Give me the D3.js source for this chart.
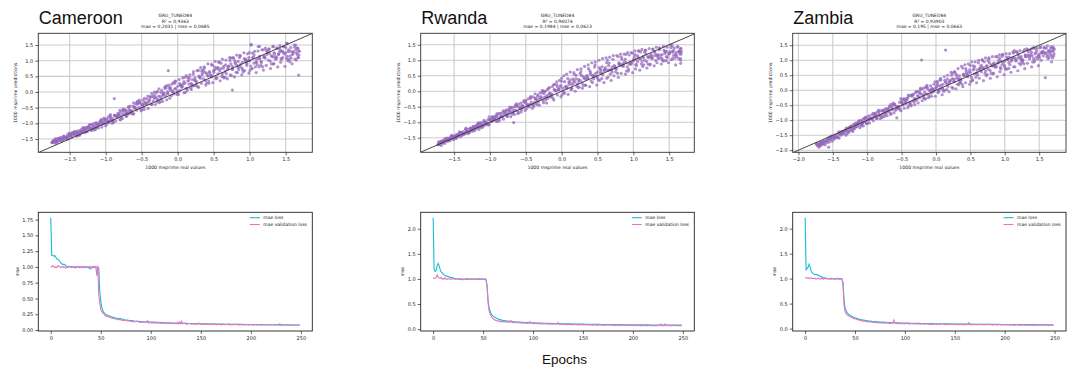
<!DOCTYPE html>
<html>
<head>
<meta charset="utf-8">
<script src="https://cdn.jsdelivr.net/npm/d3@7"></script>
<style>
  body { margin: 0; background: #fff; }
  svg { display: block; }
</style>
</head>
<body>
<svg id="chart" width="1076" height="369"></svg>
<script>
// ---- values ----
const countries = ["Cameroon", "Rwanda", "Zambia"];
const modelName = "GRU_TUNED84";
const r2Labels = ["0,9363", "0,94074", "0,93903"];
const maeLabels = ["0,2031", "0,1984", "0,195"];
const mseLabels = ["0,0685", "0,0623", "0,0663"];

// [real value, predicted value]
const cameroonPoints = [
[-1.74,-1.62],[-1.73,-1.55],[-1.72,-1.58],[-1.71,-1.6],[-1.7,-1.53],[-1.69,-1.57],[-1.68,-1.5],[-1.67,-1.56],[-1.66,-1.52],
[-1.64,-1.49],[-1.63,-1.55],[-1.62,-1.45],[-1.6,-1.51],[-1.59,-1.47],[-1.58,-1.42],[-1.57,-1.5],[-1.56,-1.44],
[-1.54,-1.46],[-1.53,-1.38],[-1.52,-1.43],[-1.5,-1.35],[-1.49,-1.41],[-1.48,-1.33],[-1.47,-1.44],[-1.46,-1.37],
[-1.44,-1.3],[-1.43,-1.38],[-1.41,-1.27],[-1.4,-1.34],[-1.39,-1.24],[-1.38,-1.31],[-1.36,-1.36],[-1.35,-1.22],
[-1.34,-1.28],[-1.33,-1.18],[-1.31,-1.24],[-1.3,-1.15],[-1.29,-1.3],[-1.28,-1.2],[-1.26,-1.12],
[-1.24,-1.19],[-1.23,-1.08],[-1.21,-1.15],[-1.2,-1.23],[-1.19,-1.05],[-1.17,-1.12],[-1.16,-1.0],
[-1.14,-1.1],[-1.13,-0.98],[-1.11,-1.04],[-1.1,-1.15],[-1.08,-0.95],[-1.07,-1.02],[-1.06,-0.9],
[-1.04,-1.02],[-1.02,-0.88],[-1.01,-0.95],[-1.0,-1.08],[-0.98,-0.85],[-0.97,-0.96],[-0.96,-0.79],
[-0.94,-0.9],[-0.93,-0.8],[-0.91,-1.0],[-0.9,-0.85],[-0.88,-0.21],[-0.88,-0.74],[-0.86,-0.92],
[-0.84,-0.8],[-0.83,-0.68],[-0.81,-0.75],[-0.8,-0.88],[-0.78,-0.63],[-0.77,-0.72],[-0.76,-0.55],
[-0.74,-0.7],[-0.72,-0.58],[-0.71,-0.78],[-0.7,-0.62],[-0.68,-0.5],[-0.67,-0.68],[-0.66,-0.45],
[-0.64,-0.6],[-0.62,-0.45],[-0.61,-0.7],[-0.6,-0.52],[-0.58,-0.38],[-0.57,-0.58],[-0.56,-0.3],
[-0.54,-0.5],[-0.53,-0.35],[-0.51,-0.6],[-0.5,-0.42],[-0.48,-0.26],[-0.47,-0.48],[-0.46,-0.2],
[-0.44,-0.38],[-0.43,-0.22],[-0.41,-0.52],[-0.4,-0.3],[-0.38,-0.15],[-0.37,-0.4],[-0.36,-0.05],
[-0.34,-0.28],[-0.32,-0.1],[-0.31,-0.4],[-0.3,-0.18],[-0.28,0.02],[-0.27,-0.25],[-0.26,0.1],
[-0.24,-0.15],[-0.22,0.05],[-0.21,-0.3],[-0.2,-0.05],[-0.18,0.15],[-0.17,-0.12],[-0.16,0.2],
[-0.14,-0.05],[-0.13,0.68],[-0.12,0.12],[-0.11,-0.2],[-0.1,0.05],[-0.08,0.25],[-0.07,0.0],[-0.06,0.3],
[-0.04,0.1],[-0.03,0.35],[-0.01,-0.08],[0.0,0.18],[0.02,0.4],[0.03,0.05],[0.04,0.22],
[0.06,0.15],[0.07,0.45],[0.09,-0.02],[0.1,0.28],[0.12,0.52],[0.13,0.1],[0.14,0.35],
[0.16,0.25],[0.17,0.55],[0.19,0.08],[0.2,0.4],[0.22,0.65],[0.23,0.2],[0.24,0.45],
[0.26,0.35],[0.27,0.68],[0.29,0.15],[0.3,0.5],[0.32,0.78],[0.33,0.28],[0.34,0.55],
[0.36,0.42],[0.37,0.8],[0.39,0.22],[0.4,0.6],[0.42,0.9],[0.43,0.35],[0.44,0.65],
[0.46,0.5],[0.47,0.88],[0.49,0.3],[0.5,0.68],[0.52,0.98],[0.53,0.42],[0.54,0.75],
[0.56,0.58],[0.57,0.95],[0.59,0.36],[0.6,0.75],[0.62,1.05],[0.63,0.48],[0.64,0.82],
[0.66,0.65],[0.67,1.02],[0.69,0.42],[0.7,0.82],[0.72,1.1],[0.73,0.55],[0.74,0.9],[0.76,0.06],
[0.76,0.72],[0.77,1.1],[0.79,0.48],[0.8,0.9],[0.82,1.18],[0.83,0.62],[0.84,0.98],
[0.86,0.8],[0.87,1.15],[0.89,0.55],[0.9,0.95],[0.92,1.25],[0.93,0.68],[0.94,1.05],
[0.96,0.85],[0.97,1.22],[0.99,0.6],[1.0,1.0],[1.02,1.5],[1.03,0.75],[1.04,1.1],
[1.06,0.92],[1.07,1.3],[1.09,0.62],[1.1,1.05],[1.12,1.45],[1.13,0.8],[1.14,1.15],
[1.16,0.98],[1.17,1.35],[1.19,0.7],[1.2,1.1],[1.22,1.4],[1.23,0.85],[1.24,1.2],
[1.26,1.02],[1.27,1.38],[1.29,0.75],[1.3,1.15],[1.32,1.45],[1.33,0.9],[1.34,1.25],
[1.36,1.05],[1.37,1.4],[1.39,0.8],[1.4,1.2],[1.42,1.48],[1.43,0.95],[1.44,1.3],
[1.46,1.1],[1.47,1.45],[1.49,0.82],[1.5,1.25],[1.52,1.55],[1.53,1.0],[1.54,1.35],
[1.56,1.15],[1.57,1.42],[1.59,0.9],[1.6,1.28],[1.62,1.5],[1.63,1.05],[1.64,1.35],
[1.66,1.2],[1.67,1.4],[1.68,0.54],[1.68,1.1],[1.69,1.3],
[-1.738,-1.61],[-1.703,-1.50],[-1.667,-1.60],[-1.721,-1.58],[-1.684,-1.60],[-1.659,-1.48],[-1.746,-1.61],[-1.695,-1.64],[-1.712,-1.55],
[-1.638,-1.47],[-1.603,-1.51],[-1.567,-1.45],[-1.621,-1.57],[-1.584,-1.41],[-1.559,-1.45],[-1.646,-1.50],[-1.595,-1.53],[-1.612,-1.52],
[-1.538,-1.47],[-1.503,-1.38],[-1.467,-1.30],[-1.521,-1.50],[-1.484,-1.39],[-1.459,-1.32],[-1.546,-1.50],[-1.495,-1.39],[-1.512,-1.32],
[-1.379,-1.31],[-1.432,-1.26],[-1.398,-1.41],[-1.356,-1.26],[-1.414,-1.38],[-1.443,-1.29],[-1.387,-1.31],[-1.365,-1.39],[-1.424,-1.30],
[-1.279,-1.14],[-1.332,-1.29],[-1.298,-1.22],[-1.256,-1.27],[-1.314,-1.14],[-1.343,-1.28],[-1.287,-1.18],[-1.265,-1.26],[-1.324,-1.27],
[-1.179,-1.17],[-1.232,-1.14],[-1.198,-1.04],[-1.156,-1.21],[-1.214,-1.15],[-1.243,-1.12],[-1.187,-1.21],[-1.165,-1.09],[-1.224,-1.04],
[-1.107,-1.06],[-1.061,-0.88],[-1.141,-1.19],[-1.089,-1.00],[-1.126,-1.13],[-1.073,-0.92],[-1.099,-1.03],[-1.053,-1.12],[-1.135,-1.01],
[-1.007,-0.87],[-0.961,-0.94],[-1.041,-0.97],[-0.989,-1.03],[-1.026,-0.83],[-0.973,-0.93],[-0.999,-0.89],[-0.953,-0.98],[-1.035,-1.00],
[-0.907,-0.91],[-0.861,-0.76],[-0.941,-0.76],[-0.889,-0.97],[-0.926,-0.86],[-0.873,-0.75],[-0.899,-0.94],[-0.853,-0.78],[-0.935,-0.72],
[-0.838,-0.79],[-0.803,-0.59],[-0.767,-0.85],[-0.821,-0.73],[-0.784,-0.81],[-0.759,-0.58],[-0.846,-0.77],[-0.795,-0.89],[-0.812,-0.68],
[-0.738,-0.56],[-0.703,-0.68],[-0.667,-0.58],[-0.721,-0.77],[-0.684,-0.47],[-0.659,-0.60],[-0.746,-0.61],[-0.695,-0.72],[-0.712,-0.67],
[-0.638,-0.62],[-0.603,-0.48],[-0.567,-0.35],[-0.621,-0.70],[-0.584,-0.51],[-0.559,-0.39],[-0.646,-0.68],[-0.595,-0.49],[-0.612,-0.35],
[-0.479,-0.41],[-0.532,-0.26],[-0.498,-0.57],[-0.456,-0.33],[-0.514,-0.52],[-0.543,-0.31],[-0.487,-0.39],[-0.465,-0.56],[-0.524,-0.34],
[-0.379,-0.16],[-0.432,-0.39],[-0.398,-0.28],[-0.356,-0.40],[-0.414,-0.13],[-0.443,-0.35],[-0.387,-0.22],[-0.365,-0.38],[-0.424,-0.36],
[-0.279,-0.25],[-0.332,-0.17],[-0.298,-0.02],[-0.256,-0.34],[-0.314,-0.20],[-0.343,-0.13],[-0.287,-0.32],[-0.265,-0.13],[-0.324,0.00],
[-0.207,-0.11],[-0.161,0.17],[-0.241,-0.31],[-0.189,-0.03],[-0.226,-0.21],[-0.173,0.11],[-0.199,-0.07],[-0.153,-0.25],[-0.235,-0.01],
[-0.107,0.16],[-0.061,0.00],[-0.141,0.01],[-0.089,-0.12],[-0.126,0.22],[-0.073,0.04],[-0.099,0.11],[-0.053,-0.06],[-0.135,-0.05],
[-0.007,0.02],[0.039,0.23],[-0.041,0.28],[0.011,-0.08],[-0.026,0.11],[0.027,0.27],[0.001,-0.03],[0.047,0.21],[-0.035,0.34],
[0.062,0.18],[0.097,0.47],[0.133,0.05],[0.079,0.26],[0.116,0.12],[0.141,0.46],[0.054,0.20],[0.105,-0.01],[0.088,0.33],
[0.162,0.46],[0.197,0.25],[0.233,0.39],[0.179,0.13],[0.216,0.57],[0.241,0.36],[0.154,0.38],[0.205,0.19],[0.188,0.27],
[0.262,0.29],[0.297,0.50],[0.333,0.68],[0.279,0.17],[0.316,0.44],[0.341,0.61],[0.254,0.21],[0.305,0.47],[0.288,0.69],
[0.421,0.51],[0.368,0.76],[0.402,0.28],[0.444,0.62],[0.386,0.37],[0.357,0.69],[0.413,0.54],[0.435,0.28],[0.376,0.63],
[0.521,0.79],[0.468,0.48],[0.502,0.63],[0.544,0.44],[0.486,0.85],[0.457,0.55],[0.513,0.71],[0.535,0.47],[0.476,0.52],
[0.621,0.58],[0.568,0.73],[0.602,0.92],[0.644,0.45],[0.586,0.67],[0.557,0.79],[0.613,0.50],[0.635,0.76],[0.576,0.96],
[0.693,0.72],[0.739,1.09],[0.659,0.47],[0.711,0.83],[0.674,0.59],[0.727,1.01],[0.701,0.78],[0.747,0.52],[0.665,0.87],
[0.793,1.00],[0.839,0.78],[0.759,0.82],[0.811,0.63],[0.774,1.08],[0.827,0.84],[0.801,0.94],[0.847,0.71],[0.765,0.74],
[0.893,0.77],[0.939,1.02],[0.859,1.10],[0.911,0.64],[0.874,0.88],[0.927,1.07],[0.901,0.71],[0.947,0.99],[0.865,1.17],
[0.962,0.91],[0.997,1.26],[1.033,0.75],[0.979,1.01],[1.016,0.83],[1.041,1.24],[0.954,0.95],[1.005,0.69],[0.988,1.10],[1.021,1.52],
[1.062,1.18],[1.097,0.94],[1.133,1.09],[1.079,0.80],[1.116,1.31],[1.141,1.06],[1.054,1.10],[1.105,0.87],[1.088,0.96],[1.135,1.46],
[1.162,0.94],[1.197,1.15],[1.233,1.33],[1.179,0.81],[1.216,1.09],[1.241,1.26],[1.154,0.86],[1.205,1.12],[1.188,1.35],
[1.321,1.12],[1.268,1.36],[1.302,0.90],[1.344,1.22],[1.286,0.99],[1.257,1.29],[1.313,1.15],[1.335,0.90],[1.276,1.23],[1.33,1.46],
[1.421,1.36],[1.368,1.07],[1.402,1.21],[1.444,1.04],[1.386,1.40],[1.357,1.13],[1.413,1.28],[1.435,1.07],[1.376,1.11],
[1.521,1.14],[1.468,1.25],[1.502,1.42],[1.544,1.04],[1.486,1.21],[1.457,1.31],[1.513,1.07],[1.535,1.29],[1.476,1.45],[1.512,1.55],
[1.593,1.19],[1.639,1.50],[1.559,0.97],[1.611,1.28],[1.574,1.08],[1.627,1.43],[1.601,1.23],[1.647,1.02],[1.565,1.30],
[1.652,1.25],[1.661,1.4],[1.668,1.1],[1.679,1.32],[1.684,1.18]
];

const rwandaPoints = [
[-1.72,-1.72],[-1.71,-1.66],[-1.7,-1.7],[-1.69,-1.63],[-1.68,-1.75],[-1.67,-1.65],[-1.66,-1.6],
[-1.64,-1.62],[-1.63,-1.68],[-1.61,-1.56],[-1.6,-1.6],[-1.58,-1.52],[-1.57,-1.58],[-1.56,-1.5],
[-1.54,-1.53],[-1.53,-1.46],[-1.51,-1.56],[-1.5,-1.44],[-1.48,-1.5],[-1.47,-1.4],[-1.46,-1.47],
[-1.44,-1.44],[-1.43,-1.36],[-1.41,-1.47],[-1.4,-1.33],[-1.38,-1.4],[-1.37,-1.3],[-1.36,-1.38],
[-1.34,-1.34],[-1.33,-1.25],[-1.31,-1.37],[-1.3,-1.22],[-1.28,-1.3],[-1.27,-1.2],[-1.26,-1.27],
[-1.24,-1.24],[-1.23,-1.14],[-1.21,-1.27],[-1.2,-1.12],[-1.18,-1.2],[-1.17,-1.08],[-1.16,-1.16],
[-1.14,-1.13],[-1.13,-1.03],[-1.11,-1.17],[-1.1,-1.0],[-1.08,-1.09],[-1.07,-0.97],[-1.06,-1.05],
[-1.04,-1.02],[-1.03,-0.92],[-1.01,-1.07],[-1.0,-0.9],[-0.98,-0.98],[-0.97,-0.85],[-0.96,-0.95],
[-0.94,-0.92],[-0.93,-0.8],[-0.91,-0.97],[-0.9,-0.78],[-0.88,-0.88],[-0.87,-0.72],[-0.86,-0.84],
[-0.84,-0.82],[-0.83,-0.7],[-0.81,-0.9],[-0.8,-0.65],[-0.78,-0.76],[-0.77,-0.6],[-0.76,-0.73],
[-0.74,-0.72],[-0.73,-0.58],[-0.71,-0.82],[-0.7,-0.55],[-0.68,-0.66],[-0.67,-1.01],[-0.66,-0.5],
[-0.64,-0.62],[-0.63,-0.48],[-0.61,-0.72],[-0.6,-0.42],[-0.58,-0.55],[-0.57,-0.38],[-0.56,-0.6],
[-0.54,-0.52],[-0.53,-0.35],[-0.51,-0.62],[-0.5,-0.3],[-0.48,-0.45],[-0.47,-0.25],[-0.46,-0.5],
[-0.44,-0.42],[-0.43,-0.22],[-0.41,-0.55],[-0.4,-0.18],[-0.38,-0.35],[-0.37,-0.08],[-0.36,-0.4],
[-0.34,-0.3],[-0.33,-0.12],[-0.31,-0.45],[-0.3,-0.05],[-0.28,-0.22],[-0.27,0.02],[-0.26,-0.3],
[-0.24,-0.2],[-0.23,0.0],[-0.21,-0.38],[-0.2,0.05],[-0.18,-0.1],[-0.17,0.12],[-0.16,-0.18],
[-0.14,-0.08],[-0.13,0.15],[-0.11,-0.28],[-0.1,0.22],[-0.08,0.02],[-0.07,0.3],[-0.06,-0.12],
[-0.04,0.05],[-0.03,0.35],[-0.01,-0.18],[0.0,0.42],[0.02,0.1],[0.03,0.5],[0.04,-0.05],
[0.06,0.15],[0.07,0.55],[0.09,-0.1],[0.1,0.3],[0.12,0.62],[0.13,0.05],[0.14,0.22],
[0.16,0.25],[0.17,0.6],[0.19,0.0],[0.2,0.4],[0.22,0.7],[0.23,0.12],[0.24,0.32],
[0.26,0.35],[0.27,0.72],[0.29,0.1],[0.3,0.48],[0.32,0.8],[0.33,0.2],[0.34,0.4],
[0.36,0.42],[0.37,0.85],[0.39,0.15],[0.4,0.55],[0.42,0.92],[0.43,0.28],[0.44,0.5],
[0.46,0.5],[0.47,0.95],[0.49,0.2],[0.5,0.62],[0.52,1.0],[0.53,0.35],[0.54,0.6],
[0.56,0.58],[0.57,1.05],[0.59,0.28],[0.6,0.7],[0.62,1.08],[0.63,0.42],[0.64,0.68],
[0.66,0.68],[0.67,1.1],[0.69,0.35],[0.7,0.78],[0.72,1.15],[0.73,0.5],[0.74,0.75],
[0.76,0.75],[0.77,1.15],[0.79,0.45],[0.8,0.85],[0.82,1.2],[0.83,0.58],[0.84,0.82],
[0.86,0.8],[0.87,1.2],[0.89,0.55],[0.9,0.92],[0.92,1.25],[0.93,0.65],[0.94,0.88],
[0.96,0.88],[0.97,1.25],[0.99,0.6],[1.0,0.98],[1.02,1.3],[1.03,0.72],[1.04,1.02],
[1.06,0.95],[1.07,1.3],[1.09,0.68],[1.1,1.05],[1.12,1.35],[1.13,0.8],[1.14,1.08],
[1.16,1.0],[1.17,1.32],[1.19,0.75],[1.2,1.1],[1.22,1.38],[1.23,0.85],[1.24,1.12],
[1.26,1.05],[1.27,1.35],[1.29,0.82],[1.3,1.15],[1.32,1.42],[1.33,0.92],[1.34,1.18],
[1.36,1.08],[1.37,1.38],[1.39,0.88],[1.4,1.18],[1.42,1.45],[1.43,0.98],[1.44,1.22],
[1.46,1.12],[1.47,1.42],[1.49,0.92],[1.5,1.22],[1.52,1.5],[1.53,1.02],[1.54,1.28],
[1.56,1.15],[1.57,1.4],[1.59,0.85],[1.6,1.25],[1.62,1.45],[1.63,1.05],[1.64,1.3],
[1.65,1.2],[1.66,1.38],[1.66,1.0],[1.67,1.28],
[-1.679,-1.61],[-1.718,-1.72],[-1.698,-1.66],[-1.656,-1.67],[-1.714,-1.63],[-1.723,-1.71],[-1.687,-1.64],[-1.665,-1.67],[-1.708,-1.70],
[-1.579,-1.58],[-1.632,-1.58],[-1.598,-1.51],[-1.556,-1.59],[-1.614,-1.58],[-1.643,-1.58],[-1.587,-1.61],[-1.565,-1.53],[-1.624,-1.52],
[-1.479,-1.46],[-1.532,-1.42],[-1.498,-1.54],[-1.456,-1.41],[-1.514,-1.52],[-1.543,-1.45],[-1.487,-1.46],[-1.465,-1.52],[-1.524,-1.45],
[-1.407,-1.33],[-1.361,-1.36],[-1.441,-1.40],[-1.389,-1.42],[-1.426,-1.31],[-1.373,-1.36],[-1.399,-1.34],[-1.353,-1.38],[-1.435,-1.42],
[-1.307,-1.31],[-1.261,-1.20],[-1.341,-1.22],[-1.289,-1.34],[-1.326,-1.28],[-1.273,-1.19],[-1.299,-1.33],[-1.253,-1.21],[-1.335,-1.19],
[-1.207,-1.18],[-1.161,-1.02],[-1.241,-1.29],[-1.189,-1.13],[-1.226,-1.24],[-1.173,-1.06],[-1.199,-1.15],[-1.153,-1.23],[-1.235,-1.14],
[-1.138,-1.02],[-1.103,-1.10],[-1.067,-1.02],[-1.121,-1.16],[-1.084,-0.94],[-1.059,-1.03],[-1.146,-1.06],[-1.095,-1.13],[-1.112,-1.09],
[-1.038,-1.03],[-1.003,-0.92],[-0.967,-0.82],[-1.021,-1.09],[-0.984,-0.94],[-0.959,-0.85],[-1.046,-1.08],[-0.995,-0.93],[-1.012,-0.83],
[-0.938,-0.89],[-0.903,-0.72],[-0.867,-0.94],[-0.921,-0.84],[-0.884,-0.91],[-0.859,-0.71],[-0.946,-0.88],[-0.895,-0.98],[-0.912,-0.80],
[-0.779,-0.64],[-0.832,-0.83],[-0.798,-0.74],[-0.756,-0.82],[-0.814,-0.63],[-0.843,-0.80],[-0.787,-0.69],[-0.765,-0.80],[-0.824,-0.80],
[-0.679,-0.69],[-0.732,-0.64],[-0.698,-0.52],[-0.656,-0.75],[-0.714,-0.66],[-0.743,-0.61],[-0.687,-0.74],[-0.665,-0.60],[-0.724,-0.51],
[-0.579,-0.54],[-0.632,-0.41],[-0.598,-0.69],[-0.556,-0.47],[-0.614,-0.64],[-0.643,-0.45],[-0.587,-0.52],[-0.565,-0.67],[-0.624,-0.48],
[-0.507,-0.34],[-0.461,-0.45],[-0.541,-0.46],[-0.489,-0.56],[-0.526,-0.30],[-0.473,-0.43],[-0.499,-0.38],[-0.453,-0.50],[-0.535,-0.51],
[-0.407,-0.42],[-0.361,-0.24],[-0.441,-0.22],[-0.389,-0.49],[-0.426,-0.35],[-0.373,-0.22],[-0.399,-0.45],[-0.353,-0.26],[-0.435,-0.17],
[-0.307,-0.25],[-0.261,0.01],[-0.341,-0.43],[-0.289,-0.17],[-0.326,-0.34],[-0.273,-0.05],[-0.299,-0.21],[-0.253,-0.37],[-0.335,-0.16],
[-0.238,-0.01],[-0.203,-0.17],[-0.167,-0.06],[-0.221,-0.28],[-0.184,0.09],[-0.159,-0.08],[-0.246,-0.08],[-0.195,-0.23],[-0.212,-0.16],
[-0.138,-0.12],[-0.103,0.06],[-0.067,0.21],[-0.121,-0.22],[-0.084,0.01],[-0.059,0.15],[-0.146,-0.18],[-0.095,0.03],[-0.112,0.21],
[-0.038,0.05],[-0.003,0.32],[0.033,-0.07],[-0.021,0.13],[0.016,0.00],[0.041,0.31],[-0.046,0.07],[0.005,-0.12],[-0.012,0.19],
[0.121,0.36],[0.068,0.10],[0.102,0.22],[0.144,0.07],[0.086,0.41],[0.057,0.15],[0.113,0.29],[0.135,0.10],[0.076,0.13],
[0.221,0.23],[0.168,0.34],[0.202,0.51],[0.244,0.13],[0.186,0.30],[0.157,0.40],[0.213,0.16],[0.235,0.38],[0.176,0.54],
[0.321,0.40],[0.268,0.63],[0.302,0.19],[0.344,0.50],[0.286,0.27],[0.257,0.57],[0.313,0.43],[0.335,0.19],[0.276,0.51],
[0.393,0.66],[0.439,0.47],[0.359,0.50],[0.411,0.33],[0.374,0.73],[0.427,0.52],[0.401,0.61],[0.447,0.40],[0.365,0.43],
[0.493,0.48],[0.539,0.71],[0.459,0.78],[0.511,0.36],[0.474,0.58],[0.527,0.76],[0.501,0.42],[0.547,0.68],[0.465,0.85],
[0.593,0.65],[0.639,1.00],[0.559,0.41],[0.611,0.76],[0.574,0.53],[0.627,0.92],[0.601,0.70],[0.647,0.46],[0.565,0.79],
[0.662,0.91],[0.697,0.69],[0.733,0.83],[0.679,0.55],[0.716,1.03],[0.741,0.80],[0.654,0.83],[0.705,0.62],[0.688,0.70],
[0.762,0.71],[0.797,0.92],[0.833,1.10],[0.779,0.58],[0.816,0.86],[0.841,1.03],[0.754,0.63],[0.805,0.89],[0.788,1.12],
[0.862,0.86],[0.897,1.19],[0.933,0.71],[0.879,0.96],[0.916,0.79],[0.941,1.17],[0.854,0.89],[0.905,0.65],[0.888,1.04],
[1.021,1.18],[0.968,0.88],[1.002,1.02],[1.044,0.83],[0.986,1.23],[0.957,0.94],[1.013,1.10],[1.035,0.87],[0.976,0.91],
[1.121,0.96],[1.068,1.09],[1.102,1.27],[1.144,0.85],[1.086,1.04],[1.057,1.15],[1.113,0.88],[1.135,1.12],[1.076,1.30],
[1.221,1.09],[1.168,1.32],[1.202,0.88],[1.244,1.19],[1.186,0.96],[1.157,1.26],[1.213,1.12],[1.235,0.88],[1.176,1.20],
[1.293,1.29],[1.339,1.12],[1.259,1.14],[1.311,0.99],[1.274,1.36],[1.327,1.16],[1.301,1.24],[1.347,1.05],[1.265,1.07],
[1.393,1.08],[1.439,1.29],[1.359,1.34],[1.411,0.98],[1.374,1.17],[1.427,1.33],[1.401,1.03],[1.447,1.27],[1.365,1.40],
[1.493,1.19],[1.539,1.47],[1.459,0.99],[1.511,1.27],[1.474,1.09],[1.527,1.41],[1.501,1.23],[1.547,1.05],[1.465,1.29],
[1.562,1.32],[1.597,1.17],[1.633,1.28],[1.579,1.07],[1.616,1.42],[1.641,1.26],[1.554,1.26],[1.605,1.12],[1.588,1.18],
[1.652,1.3],[1.658,1.05],[1.663,1.38],[1.667,1.2],[1.66,0.9]
];

const zambiaPoints = [
[-1.72,-1.85],[-1.71,-1.78],[-1.7,-1.9],[-1.69,-1.8],[-1.68,-1.74],[-1.67,-1.84],[-1.66,-1.76],
[-1.64,-1.78],[-1.63,-1.7],[-1.61,-1.82],[-1.6,-1.68],[-1.58,-1.74],[-1.57,-1.64],[-1.56,-1.9],
[-1.54,-1.66],[-1.53,-1.58],[-1.51,-1.7],[-1.5,-1.55],[-1.48,-1.62],[-1.47,-1.5],[-1.46,-1.58],
[-1.44,-1.56],[-1.43,-1.46],[-1.41,-1.6],[-1.4,-1.42],[-1.38,-1.5],[-1.37,-1.38],[-1.36,-1.46],
[-1.34,-1.44],[-1.33,-1.34],[-1.31,-1.5],[-1.3,-1.3],[-1.28,-1.38],[-1.27,-1.25],[-1.26,-1.34],
[-1.24,-1.32],[-1.23,-1.2],[-1.21,-1.38],[-1.2,-1.15],[-1.18,-1.26],[-1.17,-1.1],[-1.16,-1.22],
[-1.14,-1.18],[-1.13,-1.06],[-1.11,-1.25],[-1.1,-1.02],[-1.08,-1.12],[-1.07,-0.98],[-1.06,-1.08],
[-1.04,-1.05],[-1.03,-0.92],[-1.01,-1.12],[-1.0,-0.88],[-0.98,-0.98],[-0.97,-0.85],[-0.96,-0.95],
[-0.94,-0.95],[-0.93,-0.82],[-0.91,-1.02],[-0.9,-0.78],[-0.88,-0.88],[-0.87,-0.75],[-0.86,-0.92],
[-0.84,-0.85],[-0.83,-0.72],[-0.81,-0.95],[-0.8,-0.68],[-0.78,-0.8],[-0.77,-0.66],[-0.76,-0.88],
[-0.74,-0.76],[-0.73,-0.62],[-0.71,-0.85],[-0.7,-0.6],[-0.68,-0.72],[-0.67,-0.55],[-0.66,-0.8],
[-0.64,-0.65],[-0.63,-0.5],[-0.61,-0.75],[-0.6,-0.46],[-0.58,-0.62],[-0.57,-0.92],[-0.56,-0.55],
[-0.54,-0.56],[-0.53,-0.4],[-0.51,-0.68],[-0.5,-0.36],[-0.48,-0.5],[-0.47,-0.3],[-0.46,-0.6],
[-0.44,-0.45],[-0.43,-0.28],[-0.41,-0.58],[-0.4,-0.2],[-0.38,-0.4],[-0.37,-0.18],[-0.36,-0.52],
[-0.34,-0.35],[-0.33,-0.15],[-0.31,-0.48],[-0.3,-0.08],[-0.28,-0.3],[-0.27,-0.05],[-0.26,-0.42],
[-0.24,-0.25],[-0.23,0.02],[-0.21,1.01],[-0.2,-0.35],[-0.18,-0.15],[-0.17,0.08],[-0.16,-0.3],
[-0.14,-0.12],[-0.13,0.1],[-0.11,-0.25],[-0.1,0.0],[-0.08,0.15],[-0.07,-0.1],[-0.06,0.05],
[-0.04,-0.05],[-0.03,0.2],[-0.01,-0.2],[0.0,0.08],[0.02,0.3],[0.03,-0.08],[0.04,0.15],
[0.06,0.05],[0.07,0.35],[0.09,-0.15],[0.1,0.2],[0.12,0.45],[0.13,0.0],[0.14,1.34],
[0.16,0.2],[0.17,0.5],[0.19,-0.05],[0.2,0.3],[0.22,0.6],[0.23,0.1],[0.24,0.38],
[0.26,0.28],[0.27,0.62],[0.29,0.05],[0.3,0.4],[0.32,0.72],[0.33,0.18],[0.34,0.48],
[0.36,0.38],[0.37,0.8],[0.39,0.12],[0.4,0.5],[0.42,0.85],[0.43,0.25],[0.44,0.58],
[0.46,0.45],[0.47,0.88],[0.49,0.2],[0.5,0.6],[0.52,0.95],[0.53,0.32],[0.54,0.68],
[0.56,0.55],[0.57,0.95],[0.59,0.25],[0.6,0.68],[0.62,1.0],[0.63,0.4],[0.64,0.75],
[0.66,0.62],[0.67,1.02],[0.69,0.32],[0.7,0.75],[0.72,1.08],[0.73,0.48],[0.74,0.82],
[0.76,0.7],[0.77,1.08],[0.79,0.4],[0.8,0.85],[0.82,1.12],[0.83,0.55],[0.84,0.9],
[0.86,0.78],[0.87,1.12],[0.89,0.45],[0.9,0.92],[0.92,1.18],[0.93,0.62],[0.94,0.98],
[0.96,0.85],[0.97,1.18],[0.99,0.52],[1.0,0.98],[1.02,1.22],[1.03,0.7],[1.04,1.02],
[1.06,0.92],[1.07,1.22],[1.09,0.6],[1.1,1.02],[1.12,1.28],[1.13,0.78],[1.14,1.08],
[1.16,0.98],[1.17,1.28],[1.19,0.65],[1.2,1.08],[1.22,1.32],[1.23,0.85],[1.24,1.12],
[1.26,1.02],[1.27,1.3],[1.29,0.72],[1.3,1.12],[1.32,1.38],[1.33,0.9],[1.34,1.18],
[1.36,1.05],[1.37,1.35],[1.39,0.78],[1.4,1.15],[1.42,1.42],[1.43,0.95],[1.44,1.22],
[1.46,1.1],[1.47,1.4],[1.49,0.82],[1.5,1.2],[1.52,1.45],[1.53,1.0],[1.54,1.28],
[1.56,1.15],[1.57,1.42],[1.59,0.42],[1.6,1.25],[1.62,1.48],[1.63,1.05],[1.64,1.32],
[1.66,1.2],[1.67,1.4],[1.68,0.95],[1.69,1.3],[1.7,1.45],[1.71,1.15],[1.72,1.38],
[-1.707,-1.83],[-1.661,-1.75],[-1.741,-1.79],[-1.689,-1.84],[-1.726,-1.82],[-1.673,-1.75],[-1.699,-1.84],[-1.653,-1.75],[-1.735,-1.77],
[-1.607,-1.72],[-1.561,-1.59],[-1.641,-1.80],[-1.589,-1.68],[-1.626,-1.76],[-1.573,-1.63],[-1.599,-1.70],[-1.553,-1.73],[-1.635,-1.70],
[-1.507,-1.54],[-1.461,-1.56],[-1.541,-1.61],[-1.489,-1.63],[-1.526,-1.53],[-1.473,-1.56],[-1.499,-1.55],[-1.453,-1.58],[-1.535,-1.63],
[-1.438,-1.54],[-1.403,-1.45],[-1.367,-1.37],[-1.421,-1.57],[-1.384,-1.46],[-1.359,-1.39],[-1.446,-1.57],[-1.395,-1.46],[-1.412,-1.39],
[-1.338,-1.39],[-1.303,-1.26],[-1.267,-1.41],[-1.321,-1.35],[-1.284,-1.39],[-1.259,-1.24],[-1.346,-1.39],[-1.295,-1.45],[-1.312,-1.32],
[-1.238,-1.20],[-1.203,-1.27],[-1.167,-1.20],[-1.221,-1.34],[-1.184,-1.13],[-1.159,-1.21],[-1.246,-1.24],[-1.195,-1.30],[-1.212,-1.27],
[-1.079,-1.15],[-1.132,-1.12],[-1.098,-1.02],[-1.056,-1.19],[-1.114,-1.13],[-1.143,-1.10],[-1.087,-1.19],[-1.065,-1.07],[-1.124,-1.02],
[-0.979,-0.99],[-1.032,-0.91],[-0.998,-1.11],[-0.956,-0.93],[-1.014,-1.08],[-1.043,-0.94],[-0.987,-0.98],[-0.965,-1.09],[-1.024,-0.96],
[-0.879,-0.79],[-0.932,-0.96],[-0.898,-0.88],[-0.856,-0.95],[-0.914,-0.77],[-0.943,-0.94],[-0.887,-0.83],[-0.865,-0.94],[-0.924,-0.94],
[-0.807,-0.85],[-0.761,-0.70],[-0.841,-0.70],[-0.789,-0.91],[-0.826,-0.80],[-0.773,-0.69],[-0.799,-0.88],[-0.753,-0.72],[-0.835,-0.66],
[-0.707,-0.70],[-0.661,-0.48],[-0.741,-0.85],[-0.689,-0.63],[-0.726,-0.77],[-0.673,-0.53],[-0.699,-0.66],[-0.653,-0.78],[-0.735,-0.63],
[-0.607,-0.47],[-0.561,-0.57],[-0.641,-0.58],[-0.589,-0.67],[-0.626,-0.43],[-0.573,-0.55],[-0.599,-0.50],[-0.553,-0.61],[-0.635,-0.62],
[-0.538,-0.55],[-0.503,-0.41],[-0.467,-0.28],[-0.521,-0.63],[-0.484,-0.44],[-0.459,-0.32],[-0.546,-0.61],[-0.495,-0.42],[-0.512,-0.28],
[-0.438,-0.39],[-0.403,-0.16],[-0.367,-0.47],[-0.421,-0.32],[-0.384,-0.43],[-0.359,-0.16],[-0.446,-0.37],[-0.395,-0.52],[-0.412,-0.26],
[-0.338,-0.14],[-0.303,-0.29],[-0.267,-0.18],[-0.321,-0.39],[-0.284,-0.04],[-0.259,-0.20],[-0.346,-0.20],[-0.295,-0.34],[-0.312,-0.28],
[-0.179,-0.18],[-0.232,-0.10],[-0.198,0.05],[-0.156,-0.27],[-0.214,-0.13],[-0.243,-0.06],[-0.187,-0.25],[-0.165,-0.06],[-0.224,0.07],
[-0.079,-0.02],[-0.132,0.16],[-0.098,-0.21],[-0.056,0.06],[-0.114,-0.14],[-0.143,0.11],[-0.087,0.00],[-0.065,-0.20],[-0.124,0.06],
[0.021,0.24],[-0.032,-0.02],[0.002,0.10],[0.044,-0.04],[-0.014,0.28],[-0.043,0.03],[0.013,0.17],[0.035,-0.02],[-0.024,0.01],
[0.093,0.07],[0.139,0.28],[0.059,0.34],[0.111,-0.04],[0.074,0.16],[0.127,0.33],[0.101,0.02],[0.147,0.26],[0.065,0.40],
[0.193,0.24],[0.239,0.57],[0.159,0.02],[0.211,0.34],[0.174,0.13],[0.227,0.50],[0.201,0.29],[0.247,0.07],[0.165,0.37],
[0.293,0.53],[0.339,0.34],[0.259,0.37],[0.311,0.20],[0.274,0.60],[0.327,0.39],[0.301,0.48],[0.347,0.27],[0.265,0.30],
[0.362,0.33],[0.397,0.54],[0.433,0.72],[0.379,0.20],[0.416,0.48],[0.441,0.65],[0.354,0.25],[0.405,0.51],[0.388,0.74],
[0.462,0.50],[0.497,0.83],[0.533,0.35],[0.479,0.60],[0.516,0.43],[0.541,0.81],[0.454,0.53],[0.505,0.29],[0.488,0.68],
[0.562,0.79],[0.597,0.57],[0.633,0.71],[0.579,0.43],[0.616,0.91],[0.641,0.68],[0.554,0.71],[0.605,0.50],[0.588,0.58],
[0.721,0.64],[0.668,0.77],[0.702,0.95],[0.744,0.52],[0.686,0.72],[0.657,0.83],[0.713,0.56],[0.735,0.80],[0.676,0.99],
[0.821,0.80],[0.768,1.05],[0.802,0.57],[0.844,0.91],[0.786,0.66],[0.757,0.98],[0.813,0.83],[0.835,0.57],[0.776,0.92],
[0.921,1.07],[0.868,0.77],[0.902,0.91],[0.944,0.72],[0.886,1.12],[0.857,0.83],[0.913,0.99],[0.935,0.76],[0.876,0.80],
[0.993,0.83],[1.039,1.06],[0.959,1.13],[1.011,0.71],[0.974,0.93],[1.027,1.11],[1.001,0.77],[1.047,1.03],[0.965,1.20],
[1.093,0.97],[1.139,1.32],[1.059,0.73],[1.111,1.08],[1.074,0.85],[1.127,1.24],[1.101,1.02],[1.147,0.78],[1.065,1.11],
[1.193,1.22],[1.239,1.03],[1.159,1.06],[1.211,0.90],[1.174,1.28],[1.227,1.08],[1.201,1.16],[1.247,0.97],[1.165,0.99],
[1.262,0.99],[1.297,1.18],[1.333,1.35],[1.279,0.88],[1.316,1.13],[1.341,1.29],[1.254,0.92],[1.305,1.16],[1.288,1.36],
[1.362,1.12],[1.397,1.40],[1.433,1.00],[1.379,1.20],[1.416,1.06],[1.441,1.39],[1.354,1.14],[1.405,0.94],[1.388,1.27],
[1.462,1.31],[1.497,1.14],[1.533,1.26],[1.479,1.04],[1.516,1.42],[1.541,1.24],[1.454,1.25],[1.505,1.09],[1.488,1.16],
[1.621,1.18],[1.568,1.26],[1.602,1.40],[1.644,1.10],[1.586,1.23],[1.557,1.30],[1.613,1.12],[1.635,1.30],[1.576,1.42],
[1.662,1.31],[1.681,1.15],[1.703,1.4],[1.715,1.22],[1.671,1.45],[1.694,1.08],[1.708,1.33],[1.656,1.26]
];

// per-epoch mae, epochs 0..249
const cameroonLoss = [
1.78,1.18,1.18,1.17,1.18,1.15,1.13,1.12,1.11,1.09,
1.06,1.05,1.04,1.04,1.04,1.02,1.01,1.00,1.01,1.00,
1.00,1.01,1.00,1.00,0.99,1.00,1.00,1.01,1.00,0.99,
1.00,1.00,1.00,0.99,1.00,1.00,1.00,0.99,0.98,0.99,
0.97,0.99,1.00,0.99,1.00,0.99,0.99,0.99,0.98,0.60,
0.46,0.36,0.31,0.28,0.26,0.25,0.24,0.23,0.22,0.22,
0.21,0.21,0.20,0.20,0.19,0.19,0.19,0.18,0.18,0.18,
0.18,0.17,0.17,0.17,0.16,0.16,0.16,0.16,0.15,0.15,
0.15,0.15,0.15,0.14,0.14,0.14,0.14,0.14,0.14,0.135,
0.135,0.135,0.13,0.13,0.13,0.13,0.13,0.128,0.128,0.127,
0.126,0.125,0.125,0.124,0.123,0.122,0.122,0.121,0.12,0.12,
0.119,0.118,0.118,0.117,0.116,0.116,0.115,0.114,0.114,0.113,
0.113,0.112,0.112,0.111,0.111,0.11,0.11,0.109,0.109,0.108,
0.108,0.107,0.107,0.106,0.106,0.105,0.105,0.104,0.104,0.104,
0.103,0.103,0.102,0.102,0.102,0.101,0.101,0.1,0.1,0.1,
0.099,0.099,0.099,0.098,0.098,0.098,0.097,0.097,0.097,0.096,
0.096,0.096,0.095,0.095,0.095,0.095,0.094,0.094,0.094,0.094,
0.093,0.093,0.093,0.093,0.092,0.092,0.092,0.092,0.091,0.091,
0.091,0.091,0.09,0.09,0.09,0.09,0.09,0.089,0.089,0.089,
0.089,0.089,0.088,0.088,0.088,0.088,0.088,0.087,0.087,0.087,
0.087,0.087,0.086,0.086,0.086,0.086,0.086,0.086,0.085,0.085,
0.085,0.085,0.085,0.085,0.084,0.084,0.084,0.084,0.084,0.084,
0.083,0.083,0.083,0.083,0.083,0.083,0.082,0.082,0.082,0.082,
0.082,0.082,0.082,0.081,0.081,0.081,0.081,0.081,0.081,0.081,
0.08,0.08,0.08,0.08,0.08,0.08,0.08,0.08,0.079,0.079
];
const cameroonValLoss = [
1.00,1.00,1.02,1.00,0.99,1.00,0.99,1.01,1.02,1.00,
0.99,1.00,1.01,0.99,1.00,0.98,1.00,0.99,1.01,1.00,
1.00,0.99,1.00,1.01,1.00,0.98,1.00,1.00,0.99,1.00,
0.99,1.00,1.01,1.00,0.99,1.00,1.00,0.99,1.00,1.01,
1.00,0.99,1.01,1.00,0.99,1.01,0.86,1.02,0.55,0.42,
0.33,0.29,0.27,0.26,0.24,0.22,0.22,0.21,0.21,0.2,
0.19,0.19,0.18,0.19,0.18,0.17,0.17,0.17,0.16,0.17,
0.16,0.16,0.15,0.16,0.15,0.15,0.15,0.14,0.15,0.14,
0.14,0.14,0.13,0.14,0.13,0.13,0.14,0.13,0.13,0.12,
0.12,0.13,0.12,0.12,0.13,0.12,0.12,0.15,0.11,0.12,
0.12,0.11,0.12,0.11,0.13,0.11,0.11,0.12,0.11,0.11,
0.11,0.1,0.11,0.12,0.1,0.11,0.1,0.11,0.1,0.11,
0.1,0.11,0.1,0.1,0.11,0.1,0.1,0.12,0.1,0.13,
0.1,0.14,0.1,0.1,0.11,0.1,0.09,0.1,0.1,0.1,
0.1,0.09,0.1,0.1,0.09,0.1,0.09,0.1,0.11,0.09,
0.09,0.1,0.09,0.09,0.1,0.09,0.09,0.1,0.09,0.09,
0.09,0.09,0.1,0.09,0.09,0.09,0.08,0.09,0.09,0.09,
0.09,0.08,0.09,0.09,0.09,0.08,0.09,0.09,0.1,0.08,
0.09,0.08,0.09,0.08,0.09,0.09,0.08,0.09,0.08,0.08,
0.09,0.08,0.08,0.09,0.08,0.08,0.09,0.08,0.08,0.08,
0.09,0.08,0.08,0.08,0.09,0.08,0.08,0.08,0.09,0.08,
0.08,0.08,0.09,0.08,0.08,0.08,0.08,0.09,0.08,0.08,
0.08,0.08,0.08,0.08,0.08,0.08,0.08,0.09,0.08,0.1,
0.08,0.08,0.08,0.08,0.08,0.08,0.08,0.08,0.08,0.08,
0.08,0.08,0.07,0.08,0.08,0.08,0.08,0.08,0.08,0.08
];

const rwandaLoss = [
2.22,1.18,1.15,1.17,1.26,1.31,1.26,1.19,1.14,1.12,
1.10,1.08,1.07,1.06,1.05,1.05,1.04,1.03,1.03,1.02,
1.02,1.01,1.01,1.00,1.00,1.00,1.00,0.99,1.00,0.98,
0.99,1.00,1.00,0.99,1.00,0.99,1.00,1.00,0.99,1.00,
0.99,1.00,0.99,1.00,1.00,0.99,1.00,0.99,1.00,0.99,
1.00,0.99,1.00,0.99,0.88,0.58,0.43,0.36,0.31,0.28,
0.26,0.24,0.23,0.22,0.21,0.20,0.19,0.19,0.18,0.18,
0.17,0.17,0.17,0.16,0.16,0.16,0.16,0.15,0.15,0.15,
0.15,0.15,0.14,0.14,0.14,0.14,0.14,0.14,0.135,0.135,
0.135,0.13,0.13,0.13,0.13,0.13,0.128,0.128,0.127,0.126,
0.125,0.125,0.124,0.123,0.122,0.122,0.121,0.12,0.12,0.119,
0.118,0.118,0.117,0.116,0.116,0.115,0.114,0.114,0.113,0.113,
0.112,0.112,0.111,0.111,0.11,0.11,0.109,0.109,0.108,0.108,
0.107,0.107,0.106,0.106,0.105,0.105,0.104,0.104,0.104,0.103,
0.103,0.102,0.102,0.102,0.101,0.101,0.1,0.1,0.1,0.099,
0.099,0.099,0.098,0.098,0.098,0.097,0.097,0.097,0.096,0.096,
0.096,0.095,0.095,0.095,0.094,0.094,0.094,0.094,0.093,0.093,
0.093,0.093,0.092,0.092,0.092,0.092,0.091,0.091,0.091,0.091,
0.09,0.09,0.09,0.09,0.09,0.089,0.089,0.089,0.089,0.089,
0.088,0.088,0.088,0.088,0.088,0.087,0.087,0.087,0.087,0.087,
0.086,0.086,0.086,0.086,0.086,0.085,0.085,0.085,0.085,0.085,
0.085,0.084,0.084,0.084,0.084,0.084,0.084,0.083,0.083,0.083,
0.083,0.083,0.083,0.082,0.082,0.082,0.082,0.082,0.082,0.082,
0.081,0.081,0.081,0.081,0.081,0.081,0.08,0.08,0.08,0.08,
0.08,0.08,0.08,0.079,0.079,0.079,0.079,0.079,0.079,0.079
];
const rwandaValLoss = [
1.02,1.01,1.01,1.03,1.08,1.04,1.02,1.01,1.03,1.00,
1.01,0.99,1.02,1.00,0.99,1.01,1.00,1.00,0.99,1.01,
1.00,1.00,0.99,1.01,1.00,0.99,1.00,1.01,0.99,1.00,
1.00,0.99,1.00,1.00,1.01,0.99,1.00,0.99,1.00,1.00,
0.99,1.00,1.00,0.99,1.00,1.01,0.99,1.00,0.99,1.00,
0.99,1.00,0.99,0.98,0.84,0.52,0.37,0.30,0.26,0.23,
0.21,0.19,0.18,0.17,0.17,0.16,0.16,0.15,0.15,0.15,
0.15,0.14,0.15,0.14,0.14,0.15,0.14,0.14,0.17,0.14,
0.13,0.14,0.13,0.13,0.14,0.13,0.13,0.12,0.13,0.12,
0.12,0.13,0.12,0.12,0.12,0.11,0.12,0.15,0.11,0.12,
0.11,0.11,0.12,0.11,0.11,0.13,0.11,0.1,0.11,0.11,
0.1,0.11,0.1,0.11,0.1,0.1,0.11,0.1,0.1,0.1,
0.1,0.1,0.11,0.1,0.1,0.13,0.1,0.09,0.1,0.1,
0.09,0.1,0.09,0.1,0.09,0.09,0.1,0.09,0.09,0.09,
0.09,0.09,0.1,0.09,0.09,0.09,0.08,0.09,0.09,0.09,
0.09,0.08,0.09,0.09,0.08,0.09,0.08,0.08,0.09,0.08,
0.08,0.08,0.09,0.08,0.08,0.08,0.08,0.09,0.08,0.08,
0.08,0.08,0.08,0.08,0.08,0.09,0.08,0.08,0.08,0.08,
0.08,0.08,0.07,0.08,0.08,0.08,0.08,0.07,0.08,0.08,
0.08,0.07,0.08,0.08,0.07,0.08,0.08,0.07,0.08,0.07,
0.08,0.07,0.07,0.08,0.07,0.07,0.08,0.07,0.07,0.07,
0.07,0.08,0.07,0.07,0.07,0.07,0.08,0.07,0.07,0.07,
0.07,0.07,0.07,0.07,0.07,0.08,0.07,0.07,0.1,0.07,
0.07,0.07,0.1,0.07,0.07,0.08,0.07,0.07,0.07,0.07,
0.08,0.07,0.07,0.07,0.07,0.07,0.07,0.07,0.07,0.07
];

const zambiaLoss = [
2.22,1.18,1.20,1.23,1.29,1.23,1.16,1.12,1.10,1.09,
1.08,1.08,1.08,1.07,1.06,1.05,1.04,1.03,1.02,1.02,
1.01,1.01,1.00,1.00,1.00,1.00,0.99,1.00,1.00,1.00,
0.99,1.00,1.00,1.00,0.99,1.00,1.00,0.99,0.92,0.58,
0.42,0.36,0.32,0.30,0.28,0.27,0.25,0.24,0.23,0.22,
0.21,0.21,0.20,0.19,0.19,0.18,0.18,0.17,0.17,0.17,
0.16,0.16,0.16,0.15,0.15,0.15,0.15,0.14,0.14,0.14,
0.14,0.14,0.135,0.135,0.13,0.13,0.13,0.13,0.13,0.125,
0.125,0.125,0.12,0.12,0.12,0.12,0.12,0.118,0.117,0.116,
0.116,0.115,0.115,0.114,0.114,0.113,0.112,0.112,0.111,0.111,
0.11,0.11,0.11,0.109,0.109,0.108,0.108,0.107,0.107,0.106,
0.106,0.105,0.105,0.104,0.104,0.104,0.103,0.103,0.102,0.102,
0.102,0.101,0.101,0.1,0.1,0.1,0.099,0.099,0.099,0.098,
0.098,0.098,0.097,0.097,0.097,0.096,0.096,0.096,0.096,0.095,
0.095,0.095,0.094,0.094,0.094,0.094,0.093,0.093,0.093,0.093,
0.092,0.092,0.092,0.092,0.091,0.091,0.091,0.091,0.09,0.09,
0.09,0.09,0.09,0.089,0.089,0.089,0.089,0.089,0.088,0.088,
0.088,0.088,0.088,0.087,0.087,0.087,0.087,0.087,0.086,0.086,
0.086,0.086,0.086,0.086,0.085,0.085,0.085,0.085,0.085,0.085,
0.084,0.084,0.084,0.084,0.084,0.084,0.083,0.083,0.083,0.083,
0.083,0.083,0.083,0.082,0.082,0.082,0.082,0.082,0.082,0.082,
0.081,0.081,0.081,0.081,0.081,0.081,0.081,0.08,0.08,0.08,
0.08,0.08,0.08,0.08,0.08,0.079,0.079,0.079,0.079,0.079,
0.079,0.079,0.079,0.078,0.078,0.078,0.078,0.078,0.078,0.078,
0.078,0.078,0.077,0.077,0.077,0.077,0.077,0.077,0.077,0.077
];
const zambiaValLoss = [
1.03,1.02,1.01,1.02,1.00,1.01,1.02,1.00,1.01,1.00,
1.01,0.99,1.00,1.01,1.00,0.99,1.01,1.00,0.99,1.00,
1.00,1.01,0.99,1.00,1.00,0.99,1.01,1.00,1.00,0.99,
1.00,1.00,0.99,1.01,1.00,0.99,1.00,0.99,0.85,0.46,
0.35,0.30,0.28,0.26,0.25,0.24,0.23,0.22,0.21,0.20,
0.20,0.19,0.18,0.18,0.17,0.17,0.16,0.16,0.15,0.15,
0.15,0.14,0.14,0.14,0.13,0.14,0.13,0.13,0.13,0.12,
0.13,0.12,0.12,0.12,0.12,0.11,0.12,0.11,0.12,0.11,
0.11,0.11,0.12,0.11,0.11,0.10,0.11,0.11,0.11,0.17,
0.11,0.1,0.11,0.1,0.1,0.11,0.1,0.1,0.1,0.1,
0.1,0.1,0.11,0.1,0.09,0.1,0.1,0.1,0.09,0.1,
0.1,0.09,0.1,0.09,0.1,0.09,0.09,0.1,0.09,0.09,
0.09,0.09,0.1,0.09,0.09,0.09,0.09,0.08,0.09,0.09,
0.09,0.09,0.08,0.09,0.09,0.08,0.09,0.1,0.09,0.09,
0.08,0.09,0.09,0.08,0.09,0.08,0.09,0.08,0.09,0.08,
0.09,0.08,0.08,0.09,0.08,0.08,0.08,0.09,0.08,0.08,
0.08,0.08,0.09,0.08,0.12,0.08,0.08,0.08,0.08,0.09,
0.08,0.08,0.08,0.08,0.08,0.08,0.09,0.08,0.08,0.08,
0.08,0.08,0.08,0.09,0.08,0.08,0.08,0.08,0.07,0.08,
0.08,0.08,0.07,0.08,0.08,0.08,0.07,0.08,0.08,0.07,
0.08,0.07,0.08,0.07,0.08,0.07,0.07,0.08,0.07,0.07,
0.07,0.07,0.08,0.07,0.07,0.07,0.07,0.07,0.08,0.07,
0.07,0.07,0.07,0.07,0.07,0.07,0.07,0.07,0.07,0.07,
0.07,0.07,0.07,0.07,0.07,0.07,0.07,0.07,0.07,0.07,
0.07,0.07,0.07,0.07,0.06,0.07,0.07,0.07,0.07,0.07
];

const scatterPoints = [cameroonPoints, rwandaPoints, zambiaPoints];
const trainLoss = [cameroonLoss, rwandaLoss, zambiaLoss];
const valLoss = [cameroonValLoss, rwandaValLoss, zambiaValLoss];

// ---- layout ----
const columns = [[38.3, 312.3], [420.7, 694.3], [792.7, 1066]];
const scatterTop = 33.3, scatterBottom = 152.3;
const lossTop = 212.3, lossBottom = 331;
const scatterXDomain = [[-1.936, 1.87], [-1.966, 1.85], [-2.083, 1.89]];
const scatterYDomain = [[-1.926, 1.875], [-1.97, 1.87], [-2.07, 1.9]];
const lossTickStep = [0.25, 0.5, 0.5];
const lossTickFormat = [".2f", ".1f", ".1f"];
const lossLabelOffset = [19.7, 17.1, 16.4];

const TRAIN_COLOR = "#17becf", VAL_COLOR = "#e377c2", POINT_COLOR = "#9467bd";
const TICK_FONT = "'DejaVu Sans', sans-serif";

const svg = d3.select("#chart");

function styleAxis(g) {
  g.select(".domain").remove();
  g.selectAll(".tick line").attr("stroke", "#222").attr("stroke-width", 0.7);
  g.selectAll(".tick text")
    .attr("fill", "#222")
    .style("font-family", TICK_FONT)
    .style("font-size", "5px");
}

countries.forEach((country, i) => {
  const [L, R] = columns[i];
  const cx = (L + R) / 2;

  // ---------- predictions vs real values ----------
  const x = d3.scaleLinear().domain(scatterXDomain[i]).range([L, R]);
  const y = d3.scaleLinear().domain(scatterYDomain[i]).range([scatterBottom, scatterTop]);
  const sg = svg.append("g");

  const clipId = "plot-clip-" + i;
  svg.append("clipPath").attr("id", clipId)
    .append("rect").attr("x", L).attr("y", scatterTop)
    .attr("width", R - L).attr("height", scatterBottom - scatterTop);

  const grid = sg.append("g").attr("stroke", "#cccccc").attr("stroke-width", 1.1);
  grid.selectAll("line.v").data(x.ticks()).join("line").attr("class", "v")
    .attr("x1", d => x(d)).attr("x2", d => x(d))
    .attr("y1", scatterTop).attr("y2", scatterBottom);
  grid.selectAll("line.h").data(y.ticks()).join("line").attr("class", "h")
    .attr("y1", d => y(d)).attr("y2", d => y(d))
    .attr("x1", L).attr("x2", R);

  sg.append("g").attr("clip-path", `url(#${clipId})`)
    .selectAll("circle").data(scatterPoints[i]).join("circle")
    .attr("cx", d => x(d[0])).attr("cy", d => y(d[1]))
    .attr("r", 1.6).attr("fill", POINT_COLOR).attr("fill-opacity", 0.72);

  // identity line
  sg.append("line").attr("clip-path", `url(#${clipId})`)
    .attr("x1", x(-3)).attr("y1", y(-3)).attr("x2", x(3)).attr("y2", y(3))
    .attr("stroke", "#333").attr("stroke-width", 0.9);

  sg.append("rect").attr("x", L).attr("y", scatterTop)
    .attr("width", R - L).attr("height", scatterBottom - scatterTop)
    .attr("fill", "none").attr("stroke", "#333").attr("stroke-width", 0.9);

  sg.append("g").attr("transform", `translate(0,${scatterBottom})`)
    .call(d3.axisBottom(x).tickSize(3).tickPadding(2).tickFormat(d3.format(".1f")))
    .call(styleAxis);
  sg.append("g").attr("transform", `translate(${L},0)`)
    .call(d3.axisLeft(y).tickSize(3).tickPadding(2).tickFormat(d3.format(".1f")))
    .call(styleAxis);

  sg.append("text").attr("x", cx).attr("y", 169.2).attr("text-anchor", "middle")
    .style("font-family", TICK_FONT).style("font-size", "4.6px").attr("fill", "#222")
    .text("1000 msprime real values");
  sg.append("text")
    .attr("transform", `translate(${L - 21},${(scatterTop + scatterBottom) / 2}) rotate(-90)`)
    .attr("text-anchor", "middle")
    .style("font-family", TICK_FONT).style("font-size", "4.6px").attr("fill", "#222")
    .text("1000 msprime predictions");

  // panel heading and metrics
  sg.append("text").attr("x", L + 0.5).attr("y", 23.6)
    .style("font-family", "'Liberation Sans', Arial, sans-serif").style("font-size", "18px")
    .attr("fill", "#111").text(country);
  const info = [modelName, "R² = " + r2Labels[i], `mae = ${maeLabels[i]} | mse = ${mseLabels[i]}`];
  sg.append("g").selectAll("text").data(info).join("text")
    .attr("x", cx).attr("y", (d, k) => 16.7 + k * 5.8).attr("text-anchor", "middle")
    .style("font-family", TICK_FONT).style("font-size", "4.5px").attr("fill", "#222")
    .text(d => d);

  // ---------- training history ----------
  const tr = trainLoss[i], va = valLoss[i];
  const lo = Math.min(d3.min(tr), d3.min(va)), hi = Math.max(d3.max(tr), d3.max(va));
  const pad = 0.05 * (hi - lo);
  const nEpochs = tr.length - 1;
  const lx = d3.scaleLinear().domain([-0.05 * nEpochs, nEpochs * 1.05]).range([L, R]);
  const ly = d3.scaleLinear().domain([lo - pad, hi + pad]).range([lossBottom, lossTop]);
  const lg = svg.append("g");

  const line = d3.line().x((d, j) => lx(j)).y(d => ly(d));
  lg.append("path").datum(tr).attr("d", line)
    .attr("fill", "none").attr("stroke", TRAIN_COLOR).attr("stroke-width", 1.1);
  lg.append("path").datum(va).attr("d", line)
    .attr("fill", "none").attr("stroke", VAL_COLOR).attr("stroke-width", 1.1);

  lg.append("rect").attr("x", L).attr("y", lossTop)
    .attr("width", R - L).attr("height", lossBottom - lossTop)
    .attr("fill", "none").attr("stroke", "#222").attr("stroke-width", 0.9);

  lg.append("g").attr("transform", `translate(0,${lossBottom})`)
    .call(d3.axisBottom(lx).ticks(6).tickSize(3).tickPadding(2).tickFormat(d3.format("d")))
    .call(styleAxis);
  const yTicks = d3.range(0, hi + pad, lossTickStep[i]);
  lg.append("g").attr("transform", `translate(${L},0)`)
    .call(d3.axisLeft(ly).tickValues(yTicks).tickSize(3).tickPadding(2)
      .tickFormat(d3.format(lossTickFormat[i])))
    .call(styleAxis);

  lg.append("text")
    .attr("transform", `translate(${L - lossLabelOffset[i]},${(lossTop + lossBottom) / 2}) rotate(-90)`)
    .attr("text-anchor", "middle")
    .style("font-family", TICK_FONT).style("font-size", "4.6px").attr("fill", "#222")
    .text("mse");

  // legend
  const legend = [["mae loss", TRAIN_COLOR], ["mae validation loss", VAL_COLOR]];
  const leg = lg.append("g").selectAll("g").data(legend).join("g")
    .attr("transform", (d, k) => `translate(${R - 62.5},${217.7 + k * 6.8})`);
  leg.append("line").attr("x1", 0).attr("x2", 10)
    .attr("stroke", d => d[1]).attr("stroke-width", 1.1);
  leg.append("text").attr("x", 13.5).attr("y", 1.6)
    .style("font-family", TICK_FONT).style("font-size", "4.5px").attr("fill", "#222")
    .text(d => d[0]);
});

svg.append("text").attr("x", 564.5).attr("y", 363.5).attr("text-anchor", "middle")
  .style("font-family", "'Liberation Sans', Arial, sans-serif").style("font-size", "13.5px")
  .attr("fill", "#111").text("Epochs");
</script>
</body>
</html>
